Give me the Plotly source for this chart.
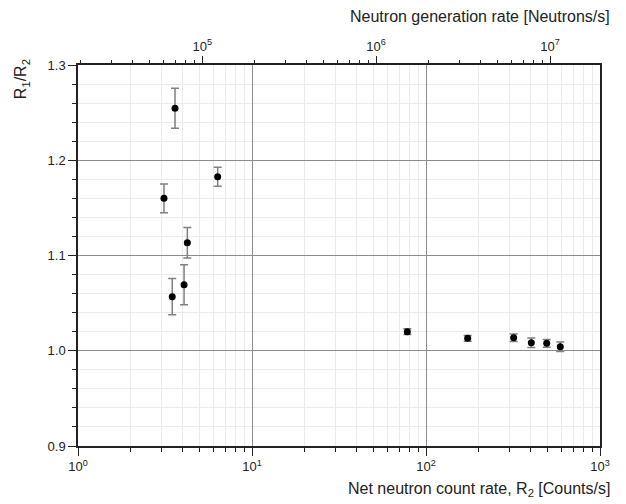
import plotly.graph_objects as go

# Net neutron count rate R2 [Counts/s]
count_rate = [3.61, 3.12, 6.35, 4.25, 4.07, 3.48, 78.1, 173.6, 319, 403, 494, 591]
# R1/R2 ratio
ratio = [1.2545, 1.160, 1.1827, 1.1135, 1.0694, 1.0568, 1.020, 1.013, 1.0137, 1.0085, 1.0078, 1.0043]
ratio_err = [0.021, 0.015, 0.010, 0.016, 0.021, 0.019, 0.003, 0.003, 0.004, 0.005, 0.004, 0.005]

bottom_ticks = [1, 10, 100, 1000]
bottom_ticktext = ["10<sup>0</sup>", "10<sup>1</sup>", "10<sup>2</sup>", "10<sup>3</sup>"]
top_ticks = [1e5, 1e6, 1e7]
top_ticktext = ["10<sup>5</sup>", "10<sup>6</sup>", "10<sup>7</sup>"]
y_ticks = [0.9, 1.0, 1.1, 1.2, 1.3]
y_ticktext = ["0.9", "1.0", "1.1", "1.2", "1.3"]

bottom_minor = [m * 10 ** d for d in range(0, 3) for m in range(2, 10)]
top_minor = [m * 10 ** d for d in range(4, 8) for m in range(2, 10)]

FONT = "Liberation Sans, Arial, sans-serif"

fig = go.Figure()
fig.add_trace(go.Scatter(
    x=count_rate, y=ratio, mode="markers",
    marker=dict(color="black", size=7),
    error_y=dict(type="data", array=ratio_err, color="#808080", thickness=1.5, width=4),
    showlegend=False,
))
# dummy trace for the top axis
fig.add_trace(go.Scatter(x=[], y=[], xaxis="x2", yaxis="y", showlegend=False))

fig.update_layout(
    width=618, height=496,
    margin=dict(l=70, r=26, t=57, b=58),
    paper_bgcolor="white", plot_bgcolor="white",
    font=dict(family=FONT, color="#222", size=13),
    xaxis=dict(
        type="log", range=[0, 3], automargin=False,
        tickvals=bottom_ticks, ticktext=bottom_ticktext,
        ticks="outside", ticklen=8, tickwidth=1.2, tickcolor="#222",
        showline=True, linecolor="#222", linewidth=1.5, mirror=True,
        showgrid=True, gridcolor="#8c8c8c", gridwidth=1,
        minor=dict(tickvals=bottom_minor, ticks="outside", ticklen=4, tickcolor="#222",
                   showgrid=True, gridcolor="#ebebeb", gridwidth=1),
        zeroline=False,
        tickfont=dict(size=13),
    ),
    xaxis2=dict(
        type="log", range=[4.286, 7.287], overlaying="x", side="top", automargin=False,
        tickvals=top_ticks, ticktext=top_ticktext,
        ticks="outside", ticklen=8, tickwidth=1.2, tickcolor="#222",
        showline=False, showgrid=False,
        minor=dict(tickvals=top_minor, ticks="outside", ticklen=4, tickcolor="#222",
                   showgrid=False),
        zeroline=False,
        tickfont=dict(size=13),
    ),
    yaxis=dict(
        range=[0.9, 1.3], automargin=False,
        tickvals=y_ticks, ticktext=y_ticktext,
        ticks="outside", ticklen=8, tickwidth=1.2, tickcolor="#222",
        showline=True, linecolor="#222", linewidth=1.5, mirror=True,
        showgrid=True, gridcolor="#8c8c8c", gridwidth=1,
        minor=dict(dtick=0.02, ticks="outside", ticklen=4, tickcolor="#222",
                   showgrid=True, gridcolor="#ebebeb", gridwidth=1),
        zeroline=False,
        tickfont=dict(size=13),
    ),
    annotations=[
        dict(text="Net neutron count rate, R<sub>2</sub> [Counts/s]",
             xref="paper", yref="paper", x=1.023, y=-0.115,
             xanchor="right", yanchor="middle", showarrow=False,
             font=dict(size=16, family=FONT, color="#222")),
        dict(text="Neutron generation rate [Neutrons/s]",
             xref="paper", yref="paper", x=1.023, y=1.126,
             xanchor="right", yanchor="middle", showarrow=False,
             font=dict(size=16, family=FONT, color="#222")),
        dict(text="R<sub>1</sub>/R<sub>2</sub>",
             xref="paper", yref="paper", x=-0.107, y=1.021,
             xanchor="center", yanchor="top", showarrow=False, textangle=-90,
             font=dict(size=16, family=FONT, color="#222")),
    ],
)

fig.write_html("out.html")
